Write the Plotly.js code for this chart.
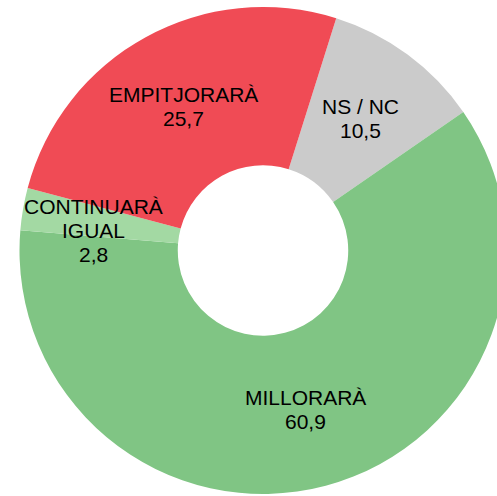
<!DOCTYPE html>
<html>
<head>
<meta charset="utf-8">
<script src="https://cdn.plot.ly/plotly-3.0.1.min.js"></script>
<style>
html, body { margin: 0; padding: 0; overflow: hidden; background: #fff; }
#chart { width: 526px; height: 496px; }
</style>
</head>
<body>
<div id="chart"></div>
<script>
const categories = ["NS / NC", "MILLORARÀ", "CONTINUARÀ IGUAL", "EMPITJORARÀ"];
const labelLines = [["NS / NC"], ["MILLORARÀ"], ["CONTINUARÀ", "IGUAL"], ["EMPITJORARÀ"]];
const values = [10.5, 60.9, 2.8, 25.7];
const colors = ["#cbcbcb", "#80c584", "#a3d9a3", "#f04b55"];

const W = 526, H = 496;
const M = { l: 19, r: 19, t: 7, b: 2 };
const ROT = 17.5, HOLE = 0.35;
const plotW = W - M.l - M.r, plotH = H - M.t - M.b;
const R = Math.min(plotW, plotH) / 2;
const LINE = 24;
const FONT = { family: "Liberation Sans, Arial, sans-serif", size: 21, color: "#000" };
// small nudge for the narrow slice label, as in the reference
const nudge = [[0, 0], [0, 0], [-8, -8], [0, 0]];

const total = values.reduce((a, b) => a + b, 0);
const annotations = [];
let cum = 0;
values.forEach((v, i) => {
  const mid = (ROT + (cum + v / 2) / total * 360) * Math.PI / 180;
  cum += v;
  const rMid = R * (1 + HOLE) / 2;
  const cx = 0.5 + rMid * Math.sin(mid) / plotW;
  const cy = 0.5 + rMid * Math.cos(mid) / plotH;
  const lines = labelLines[i].concat([v.toFixed(1).replace(".", ",")]);
  lines.forEach((t, j) => {
    annotations.push({
      xref: "paper", yref: "paper", x: cx, y: cy,
      text: t, showarrow: false, font: FONT,
      xanchor: "center", yanchor: "middle",
      xshift: nudge[i][0],
      yshift: nudge[i][1] - (j - (lines.length - 1) / 2) * LINE
    });
  });
});

const trace = {
  type: "pie",
  labels: categories,
  values: values,
  textinfo: "none",
  hoverinfo: "label+value",
  sort: false,
  direction: "clockwise",
  rotation: ROT,
  hole: HOLE,
  marker: { colors: colors, line: { width: 0 } },
  showlegend: false
};

const layout = {
  width: W,
  height: H,
  margin: M,
  paper_bgcolor: "#fff",
  annotations: annotations,
  showlegend: false
};

Plotly.newPlot("chart", [trace], layout, { displayModeBar: false, staticPlot: true });
</script>
</body>
</html>
